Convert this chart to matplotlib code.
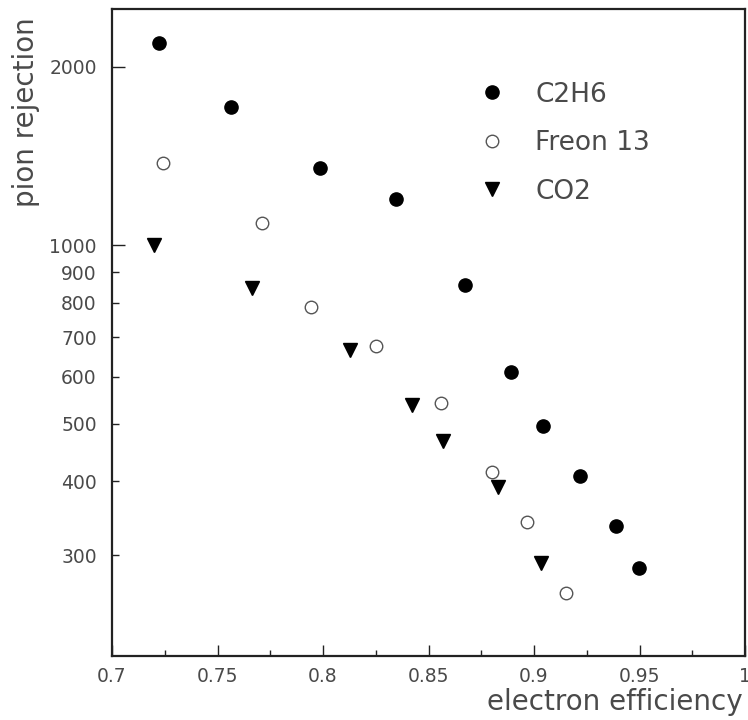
import numpy as np
import matplotlib
matplotlib.use("Agg")
import matplotlib.pyplot as plt
from matplotlib.ticker import FixedLocator, FixedFormatter

# pion rejection vs electron efficiency for three radiator gases
eff_c2h6 = [0.7224, 0.7564, 0.7987, 0.8346, 0.8672, 0.8892, 0.9041, 0.9218, 0.9389, 0.9498]
rej_c2h6 = [2190, 1712, 1348, 1195, 858, 612, 496, 408, 336, 286]

eff_freon = [0.7242, 0.7712, 0.7942, 0.8253, 0.8561, 0.8801, 0.8967, 0.9152]
rej_freon = [1375, 1092, 788, 677, 542, 414, 342, 259]

eff_co2 = [0.7199, 0.7665, 0.8128, 0.8422, 0.8570, 0.8828, 0.9033]
rej_co2 = [1000, 846, 666, 538, 467, 391, 291]

xticks = [0.7, 0.75, 0.8, 0.85, 0.9, 0.95, 1.0]
xticklabels = ["0.7", "0.75", "0.8", "0.85", "0.9", "0.95", "1"]
yticks_major = [1000, 2000]
yticks_minor = [300, 400, 500, 600, 700, 800, 900]

plt.rcParams['font.family'] = ['DejaVu Sans']
txt = '#4a4a4a'

fig = plt.figure(figsize=(7.48, 7.2), dpi=100)
ax = fig.add_axes([112/748, 64/720, 633/748, 646.7/720])

ax.plot(eff_c2h6, rej_c2h6, 'o', color='k', markersize=9.5, label='C2H6')
ax.plot(eff_freon, rej_freon, 'o', markerfacecolor='white', markeredgecolor='#555555',
        markeredgewidth=1.0, markersize=9, label='Freon 13')
ax.plot(eff_co2, rej_co2, 'v', color='k', markersize=9.5, label='CO2')

ax.set_yscale('log')
ax.set_xlim(0.7, 1.0)
ax.set_ylim(203, 2500)

ax.xaxis.set_major_locator(FixedLocator(xticks))
ax.xaxis.set_major_formatter(FixedFormatter(xticklabels))
ax.xaxis.set_minor_locator(FixedLocator(np.arange(0.725, 1.0, 0.05)))
ax.yaxis.set_major_locator(FixedLocator(yticks_major))
ax.yaxis.set_major_formatter(FixedFormatter([str(v) for v in yticks_major]))
ax.yaxis.set_minor_locator(FixedLocator(yticks_minor))
ax.yaxis.set_minor_formatter(FixedFormatter([str(v) for v in yticks_minor]))

ax.tick_params(axis='both', which='both', direction='in', top=False, right=False,
               colors='#222222', labelcolor=txt, labelsize=13.5, width=1.0)
ax.tick_params(axis='x', which='major', length=8, pad=8)
ax.tick_params(axis='x', which='minor', length=4)
ax.tick_params(axis='y', which='major', length=9, pad=11)
ax.tick_params(axis='y', which='minor', length=5, pad=11)
for s in ax.spines.values():
    s.set_linewidth(1.6)
    s.set_color('#222222')

fig.text(743/748, 10/720, 'electron efficiency', ha='right', va='baseline',
         fontsize=20, color=txt)
fig.text(26/748, 1 - 112/720, 'pion rejection', rotation=90, ha='center', va='center',
         fontsize=20, color=txt)

leg = ax.legend(loc='upper left', bbox_to_anchor=(0.579, 0.888), frameon=False,
                fontsize=19, handlelength=1.0, handletextpad=1.15, labelspacing=0.85,
                borderpad=0, borderaxespad=0, numpoints=1)
for t in leg.get_texts():
    t.set_color(txt)

fig.savefig('out.png', dpi=100)
